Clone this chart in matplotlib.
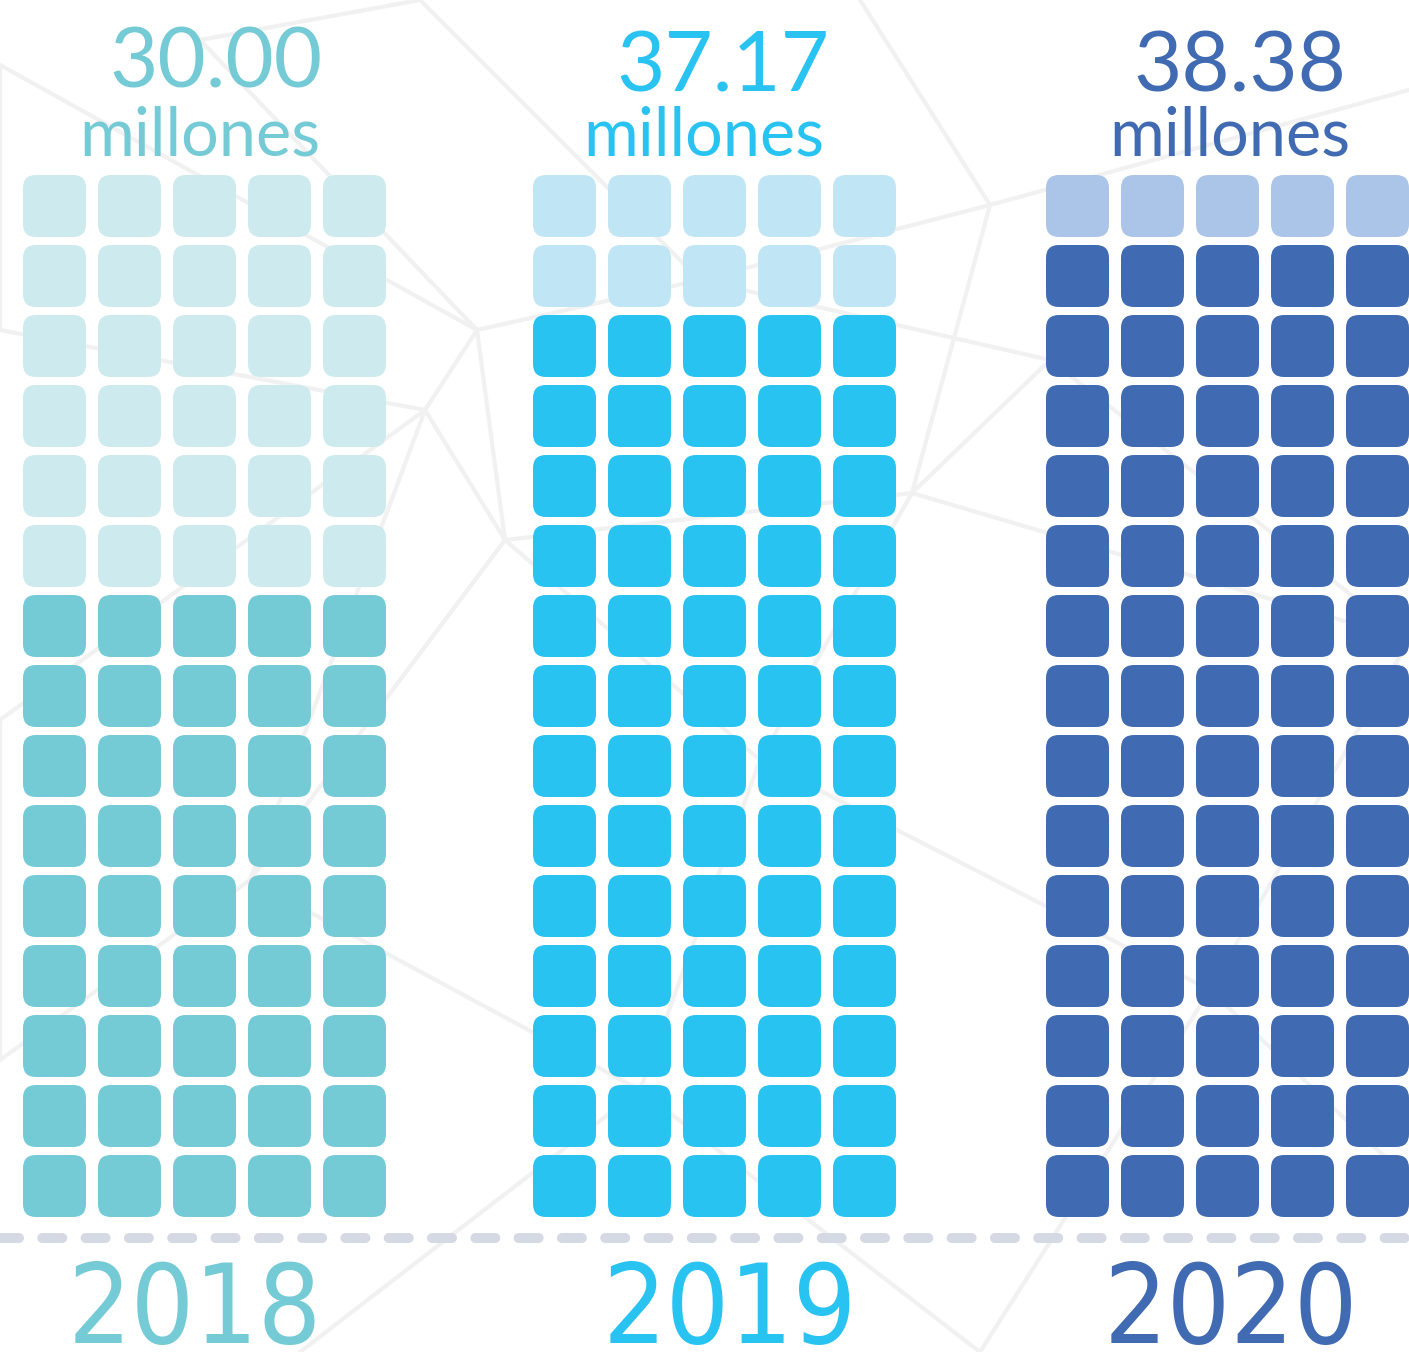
import matplotlib
matplotlib.use('Agg')
import matplotlib.pyplot as plt
from matplotlib import font_manager
from matplotlib.font_manager import FontProperties
from matplotlib.patches import FancyBboxPatch

# data
years = ['2018', '2019', '2020']
values = ['30.00', '37.17', '38.38']
unit = 'millones'
filled_rows = [9, 13, 14]   # dark rows out of 15 in each column
n_rows = 15
n_cols = 5

dark = ['#74cad5', '#29c3f2', '#406ab1']
light = ['#cdeaee', '#c0e6f5', '#aac5e8']

# faint network drawn behind everything
net_nodes = {
    'a': (0, 65), 'b': (200, 40), 'c': (477, 330), 'd': (425, 410),
    'e': (505, 540), 'f': (912, 493), 'g': (990, 205), 'h': (1050, 360),
    'i': (700, 280), 'j': (0, 720), 'k': (250, 880), 'l': (640, 1090),
    'm': (1409, 90), 'n': (1409, 640), 'o': (1210, 990), 'p': (760, 760),
    'q': (300, 1352), 'r': (1409, 1180), 's': (860, 0), 't': (0, 1060),
    'u': (980, 1352), 'v': (420, 0), 'w': (0, 330),
}
net_edges = ['ac', 'bc', 'cd', 'ce', 'ci', 'dw', 'dj', 'de', 'dk', 'ef',
             'ek', 'ep', 'fg', 'fh', 'fp', 'gs', 'gi', 'gm', 'hn', 'hi',
             'kt', 'kl', 'lp', 'lq', 'lu', 'po', 'on', 'or', 'ou', 'bv',
             'vi', 'aw', 'jt', 'fn']

# layout (pixels)
W, H = 1409, 1352
col_left = [23, 533, 1046]
cell = 63
step_x = 75
step_y = 70
top = 175


def condensed_font():
    # pick a narrow sans face if one is installed
    for f in font_manager.fontManager.ttflist:
        name = f.name.lower()
        if ('narrow' in name or 'condensed' in name or f.stretch in ('condensed', 'semi-condensed')) \
                and 'mono' not in name and 'serif' not in name and f.style == 'normal' \
                and f.weight in (400, 'normal', 'regular'):
            return FontProperties(fname=f.fname)
    return None


narrow = condensed_font()

fig = plt.figure(figsize=(W / 100, H / 100), dpi=100)
ax = fig.add_axes([0, 0, 1, 1])
ax.set_xlim(0, W)
ax.set_ylim(H, 0)
ax.axis('off')
fig.patch.set_facecolor('white')

for e in net_edges:
    (x1, y1), (x2, y2) = net_nodes[e[0]], net_nodes[e[1]]
    ax.plot([x1, x2], [y1, y2], color='#f1f1f1', lw=3, zorder=0,
            solid_capstyle='round')

for i, year in enumerate(years):
    left = col_left[i]
    for r in range(n_rows):
        filled = r >= n_rows - filled_rows[i]
        color = dark[i] if filled else light[i]
        for c in range(n_cols):
            x = left + c * step_x
            y = top + r * step_y
            box = FancyBboxPatch((x, y), cell, cell - 1,
                                 boxstyle='round,pad=0,rounding_size=13',
                                 fc=color, ec='none', zorder=2)
            ax.add_patch(box)

    center = left + (n_cols - 1) * step_x / 2 + cell / 2
    num_off = [11, 8, 12][i]
    mil_off = [-5, -11, 2][i]
    num_base = [87, 92, 92][i]
    ax.text(center + num_off, num_base, values[i], color=dark[i],
            fontsize=60, family=['Lato', 'DejaVu Sans'],
            ha='center', va='baseline', zorder=3)
    ax.text(center + mil_off, 156, unit, color=dark[i],
            fontsize=48, family=['Lato', 'DejaVu Sans'],
            ha='center', va='baseline', zorder=3)
    year_off = [-10, 15, 3][i]
    if narrow is not None:
        ax.text(center + year_off, 1343, year, color=dark[i],
                fontproperties=narrow, fontsize=80,
                ha='center', va='baseline', zorder=3)
    else:
        ax.text(center + year_off, 1343, year, color=dark[i],
                family='Liberation Sans', fontsize=76,
                ha='center', va='baseline', zorder=3)

# dashed baseline
ax.plot([-3, W], [1238, 1238], color='#d4d9e4', lw=7.2,
        dash_capstyle='round', dashes=(2.0, 2.33), zorder=1)

fig.savefig('out.png', dpi=100, facecolor='white')
